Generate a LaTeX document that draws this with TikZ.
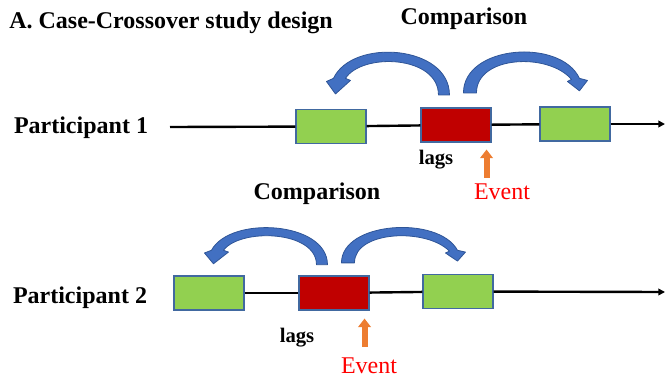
\documentclass[tikz,border=0pt]{standalone}
\usepackage{fontspec}
\setmainfont{Liberation Serif}
\usetikzlibrary{arrows.meta, calc}
\definecolor{myblue}{RGB}{66,112,194}
\definecolor{myedge}{RGB}{47,85,151}
\definecolor{mygreen}{RGB}{146,208,80}
\definecolor{myred}{RGB}{192,0,0}
\definecolor{myorange}{RGB}{237,125,49}
\definecolor{boxedge}{RGB}{65,105,160}
\tikzset{
  ctrlbox/.style={rectangle, draw=boxedge, fill=mygreen,
    minimum width=52.5pt, minimum height=25.5pt, inner sep=0pt, line width=0.8pt},
  casebox/.style={ctrlbox, fill=myred},
  timeline/.style={line width=1.8pt, color=black},
  lbl/.style={font=\fontsize{18}{21}\selectfont\bfseries, inner sep=0pt},
  lagtext/.style={font=\fontsize{15.5}{18}\selectfont\bfseries, inner sep=0pt},
  evttext/.style={font=\fontsize{18}{21}\selectfont, text=red, inner sep=0pt},
  evtarrow/.style={draw=myorange, line width=4.5pt, -{Triangle[width=9.5pt, length=6.5pt]}},
  comparrow/.style={fill=myblue, draw=myedge, line width=0.6pt, line join=round}
}
% the two curved comparison arrows over a case box, #2 = height factor
\newcommand{\comparrows}[2]{%
  \begin{scope}[shift={(#1.north west)}, yscale=#2]
    \filldraw[comparrow] (18,-12) -- (29,-12) .. controls (29,-60) and (-68,-67) .. (-87,-28)
      -- (-94,-25) -- (-85,-13) -- (-70,-26) -- (-75,-28)
      .. controls (-58,-53) and (18,-50) .. (18,-12) -- cycle;
    \filldraw[comparrow] (56,-14) -- (43,-14) .. controls (43,-60) and (140,-67) .. (159,-28)
      -- (167,-26) -- (159,-16) -- (147,-25) -- (151,-27)
      .. controls (128,-53) and (56,-50) .. (56,-14) -- cycle;
  \end{scope}}

\begin{document}
\begin{tikzpicture}[x=0.75pt, y=-0.75pt]
  \useasboundingbox (0,0) rectangle (665,383);

  % Title
  \node[lbl, anchor=west] (title) at (9,23) {A. Case-Crossover study design};

  % Participant 1
  \node[lbl] (cmp1) at (464,19) {Comparison};
  \node[lbl] (p1) at (81,128) {Participant 1};
  \coordinate (start1) at (170,127);
  \coordinate (end1) at (665,124);
  \node[ctrlbox] (ctl1a) at (331,126.5) {};
  \node[casebox] (case1) at (456,125) {};
  \node[ctrlbox] (ctl1b) at (575,124) {};
  \draw[timeline] (start1) -- (ctl1a);
  \draw[timeline] (ctl1a) -- (case1);
  \draw[timeline] (case1) -- (ctl1b);
  \draw[timeline, -{Triangle[length=5pt, width=5pt]}] (ctl1b) -- (end1);
  \comparrows{case1}{1.04}
  \node[lagtext] (lag1) at (436,160) {lags};
  \coordinate (evt1a) at ($(case1.south east)+(-5,35)$);
  \coordinate (evt1b) at ($(case1.south east)+(-5,7)$);
  \draw[evtarrow] (evt1a) -- (evt1b);
  \node[evttext] (evt1) at (502,192) {Event};

  % Participant 2
  \node[lbl] (cmp2) at (317,194) {Comparison};
  \node[lbl] (p2) at (80,298) {Participant 2};
  \coordinate (end2) at (665,292);
  \node[ctrlbox] (ctl2a) at (209,293) {};
  \node[casebox] (case2) at (334,293) {};
  \node[ctrlbox] (ctl2b) at (458,291.5) {};
  \draw[timeline] (ctl2a) -- (case2);
  \draw[timeline] (case2) -- (ctl2b);
  \draw[timeline, -{Triangle[length=5pt, width=5pt]}] (ctl2b) -- (end2);
  \comparrows{case2}{0.9}
  \node[lagtext] (lag2) at (297,338) {lags};
  \coordinate (evt2a) at ($(case2.south east)+(-5,36)$);
  \coordinate (evt2b) at ($(case2.south east)+(-5,8)$);
  \draw[evtarrow] (evt2a) -- (evt2b);
  \node[evttext] (evt2) at (369,366) {Event};
\end{tikzpicture}
\end{document}
